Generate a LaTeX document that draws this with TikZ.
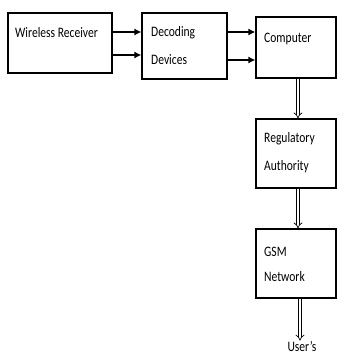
\documentclass[tikz,border=0pt]{standalone}
\usepackage{fontspec}
\setmainfont{Carlito}
\usetikzlibrary{arrows.meta,arrows}
\begin{document}
\begin{tikzpicture}[x=1bp,y=-1bp,
  box/.style={draw,line width=1.2pt,inner sep=0pt},
  txt/.style={anchor=west,inner sep=0pt,font=\fontsize{14.5}{16}\selectfont},
  solidarrow/.style={line width=2pt,-{Latex[length=7pt,width=7pt]}},
  hollowarrow/.style={double,double distance=2.4pt,line width=0.7pt,-Implies}]
\useasboundingbox (0,0) rectangle (338,354);
\node[box,minimum width=104bp,minimum height=60bp] (wr) at (60,43) {};
\node[box,minimum width=85bp,minimum height=66bp] (dd) at (184.5,46) {};
\node[box,minimum width=80bp,minimum height=61bp] (cp) at (296,47.5) {};
\node[box,minimum width=80bp,minimum height=69bp] (ra) at (296,153.5) {};
\node[box,minimum width=80bp,minimum height=69bp] (gsm) at (296,263.5) {};
\node[txt] (twr) at (15,33) {\scalebox{0.8}[1]{Wireless Receiver}};
\node[txt] (tdd1) at (151,33) {\scalebox{0.8}[1]{Decoding}};
\node[txt] (tdd2) at (151,60) {\scalebox{0.8}[1]{Devices}};
\node[txt] (tcp) at (264,39) {\scalebox{0.8}[1]{Computer}};
\node[txt] (tra1) at (264,139) {\scalebox{0.8}[1]{Regulatory}};
\node[txt] (tra2) at (264,167) {\scalebox{0.8}[1]{Authority}};
\node[txt] (tg1) at (264,252) {\scalebox{0.8}[1]{GSM}};
\node[txt] (tg2) at (264,277) {\scalebox{0.8}[1]{Network}};
\node[txt,anchor=center] (users) at (302,346) {\scalebox{0.8}[1]{User's}};
\draw[solidarrow] (wr.east |- 0,32) -- (dd.west |- 0,32);
\draw[solidarrow] (wr.east |- 0,55) -- (dd.west |- 0,55);
\draw[solidarrow] (dd.east |- 0,32) -- (cp.west |- 0,32);
\draw[solidarrow] (dd.east |- 0,60) -- (cp.west |- 0,60);
\draw[hollowarrow] (cp.south -| 298,0) -- (ra.north -| 298,0);
\draw[hollowarrow] (ra.south -| 298,0) -- (gsm.north -| 298,0);
\draw[hollowarrow] (gsm.south -| 300,0) -- (users.north -| 300,0);
\end{tikzpicture}
\end{document}
